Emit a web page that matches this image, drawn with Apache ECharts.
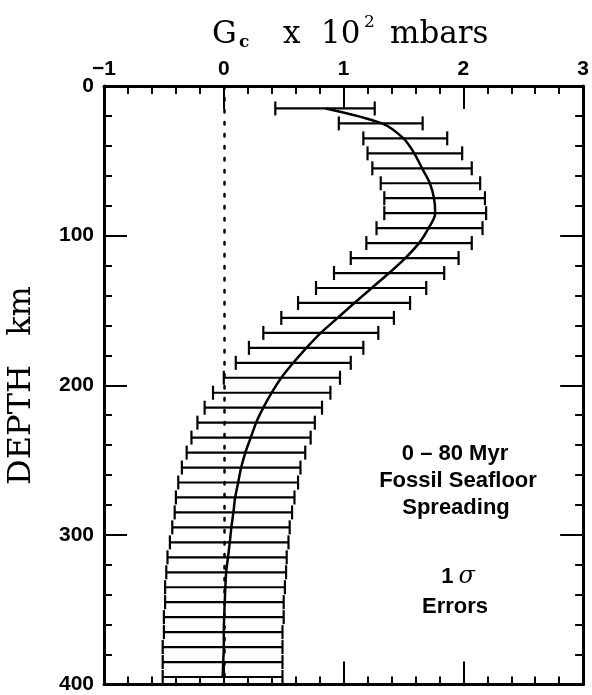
<!DOCTYPE html>
<html>
<head>
<meta charset="utf-8">
<script src="https://cdn.jsdelivr.net/npm/echarts@6/dist/echarts.min.js"></script>
<style>
  html, body { margin: 0; padding: 0; background: #fff; }
  #main { width: 592px; height: 695px; }
</style>
</head>
<body>
<div id="main"></div>
<script>
// depth of each estimate (km)
var depths = [15, 25, 35, 45, 55, 65, 75, 85, 95, 105,
  115, 125, 135, 145, 155, 165, 175, 185, 195, 205,
  215, 225, 235, 245, 255, 265, 275, 285, 295, 305,
  315, 325, 335, 345, 355, 365, 375, 385, 395];
// Gc (x 10^2 mbars) - central curve
var meanG = [0.85, 1.32, 1.50, 1.59, 1.655, 1.72, 1.755, 1.765, 1.71, 1.63,
  1.515, 1.38, 1.235, 1.09, 0.95, 0.81, 0.69, 0.58, 0.48, 0.40,
  0.33, 0.27, 0.225, 0.18, 0.145, 0.12, 0.095, 0.08, 0.063, 0.05,
  0.035, 0.02, 0.013, 0.008, 0.003, 0.0, 0.0, -0.005, -0.01];
// 1 sigma error bar ends
var lowerG = [0.43, 0.96, 1.165, 1.20, 1.24, 1.31, 1.34, 1.34, 1.275, 1.19,
  1.06, 0.92, 0.77, 0.62, 0.48, 0.33, 0.21, 0.10, 0.0, -0.09,
  -0.16, -0.22, -0.27, -0.31, -0.35, -0.38, -0.40, -0.41, -0.43, -0.45,
  -0.47, -0.48, -0.49, -0.49, -0.50, -0.50, -0.51, -0.51, -0.51];
var upperG = [1.26, 1.66, 1.865, 1.99, 2.07, 2.14, 2.18, 2.19, 2.16, 2.07,
  1.96, 1.84, 1.69, 1.555, 1.42, 1.29, 1.165, 1.06, 0.97, 0.89,
  0.82, 0.76, 0.725, 0.68, 0.64, 0.62, 0.59, 0.57, 0.55, 0.54,
  0.525, 0.52, 0.51, 0.50, 0.50, 0.49, 0.49, 0.49, 0.49];
var xTicks = [-1, 0, 1, 2, 3];
var yTicks = [0, 100, 200, 300, 400];

var sans = '"Liberation Sans", Arial, sans-serif';
var serif = '"DejaVu Serif", serif';

var myChart = echarts.init(document.getElementById('main'));

var tickStyle = { color: '#000', width: 2 };
function xAxisOpt(pos, labels) {
  return {
    type: 'value',
    position: pos,
    min: xTicks[0],
    max: xTicks[xTicks.length - 1],
    interval: 1,
    axisLine: { show: true, onZero: false, lineStyle: { color: '#000', width: 3 } },
    axisTick: { show: true, inside: true, length: 23, lineStyle: tickStyle },
    minorTick: { show: true, splitNumber: 5, length: 8, lineStyle: tickStyle },
    splitLine: { show: false },
    axisLabel: {
      show: labels,
      margin: 6,
      color: '#000',
      fontFamily: sans,
      fontWeight: 'bold',
      fontSize: 21,
      formatter: function (v) { return String(v).replace('-', '\u2212'); }
    }
  };
}
function yAxisOpt(pos, labels) {
  return {
    type: 'value',
    position: pos,
    inverse: true,
    min: yTicks[0],
    max: yTicks[yTicks.length - 1],
    interval: 100,
    axisLine: { show: true, onZero: false, lineStyle: { color: '#000', width: 3 } },
    axisTick: { show: true, inside: true, length: 23, lineStyle: tickStyle },
    minorTick: { show: true, splitNumber: 5, length: 8, lineStyle: tickStyle },
    splitLine: { show: false },
    axisLabel: {
      show: labels,
      margin: 10,
      color: '#000',
      fontFamily: sans,
      fontWeight: 'bold',
      fontSize: 21
    }
  };
}

myChart.setOption({
  backgroundColor: '#fff',
  animation: false,
  grid: { left: 104, right: 4, top: 86, bottom: 5 },
  xAxis: [xAxisOpt('top', true), xAxisOpt('bottom', false)],
  yAxis: [yAxisOpt('left', true), yAxisOpt('right', false)],
  graphic: [
    // axis title  Gc x 10^2 mbars
    { type: 'text', left: 212, top: 19, style: { text: 'G', font: '31px ' + serif, fill: '#000' } },
    { type: 'text', left: 239, top: 34, style: { text: 'c', font: 'bold 17px ' + serif, fill: '#000' } },
    { type: 'text', left: 283, top: 19, style: { text: 'x', font: '31px ' + serif, fill: '#000' } },
    { type: 'text', left: 321, top: 19, style: { text: '10', font: '31px ' + serif, fill: '#000' } },
    { type: 'text', left: 364, top: 14, style: { text: '2', font: '17px ' + serif, fill: '#000' } },
    { type: 'text', left: 390, top: 19, style: { text: 'mbars', font: '31px ' + serif, fill: '#000' } },
    // depth title
    {
      type: 'text', x: 22, y: 425, rotation: Math.PI / 2,
      style: { text: 'DEPTH', font: '32px ' + serif, fill: '#000', align: 'center', verticalAlign: 'middle' }
    },
    {
      type: 'text', x: 22, y: 311, rotation: Math.PI / 2,
      style: { text: 'km', font: '32px ' + serif, fill: '#000', align: 'center', verticalAlign: 'middle' }
    },
    // annotation
    {
      type: 'text', x: 455, y: 454,
      style: { text: '0 \u2013 80 Myr', font: 'bold 22px ' + sans, fill: '#000', align: 'center', verticalAlign: 'middle' }
    },
    {
      type: 'text', x: 458, y: 481,
      style: { text: 'Fossil Seafloor', font: 'bold 22px ' + sans, fill: '#000', align: 'center', verticalAlign: 'middle' }
    },
    {
      type: 'text', x: 456, y: 508,
      style: { text: 'Spreading', font: 'bold 22px ' + sans, fill: '#000', align: 'center', verticalAlign: 'middle' }
    },
    {
      type: 'text', x: 458, y: 577,
      style: {
        text: '{a|1}{s|\u03c3}', align: 'center', verticalAlign: 'middle',
        rich: {
          a: { font: 'bold 22px ' + sans, fill: '#000', padding: [0, 5, 0, 0] },
          s: { font: 'italic 24px ' + serif, fill: '#000' }
        }
      }
    },
    {
      type: 'text', x: 455, y: 607,
      style: { text: 'Errors', font: 'bold 22px ' + sans, fill: '#000', align: 'center', verticalAlign: 'middle' }
    }
  ],
  series: [
    {
      name: 'errors',
      type: 'custom',
      xAxisIndex: 0,
      yAxisIndex: 0,
      encode: { x: [0, 1], y: 2 },
      data: depths.map(function (d, i) { return [lowerG[i], upperG[i], d]; }),
      renderItem: function (params, api) {
        var lo = api.coord([api.value(0), api.value(2)]);
        var hi = api.coord([api.value(1), api.value(2)]);
        var cap = 7;
        var st = { stroke: '#000', lineWidth: 2.2 };
        return {
          type: 'group',
          children: [
            { type: 'line', shape: { x1: lo[0], y1: lo[1], x2: hi[0], y2: hi[1] }, style: st },
            { type: 'line', shape: { x1: lo[0], y1: lo[1] - cap, x2: lo[0], y2: lo[1] + cap }, style: st },
            { type: 'line', shape: { x1: hi[0], y1: hi[1] - cap, x2: hi[0], y2: hi[1] + cap }, style: st }
          ]
        };
      },
      z: 2
    },
    {
      name: 'Gc',
      type: 'line',
      xAxisIndex: 0,
      yAxisIndex: 0,
      data: depths.map(function (d, i) { return [meanG[i], d]; }),
      smooth: 0.3,
      symbol: 'none',
      lineStyle: { color: '#000', width: 2.5 },
      markLine: {
        silent: true,
        symbol: 'none',
        label: { show: false },
        lineStyle: { color: '#000', width: 2.5, type: [2.5, 9.5], cap: 'round' },
        data: [{ xAxis: 0 }]
      },
      z: 3
    }
  ]
});
</script>
</body>
</html>
